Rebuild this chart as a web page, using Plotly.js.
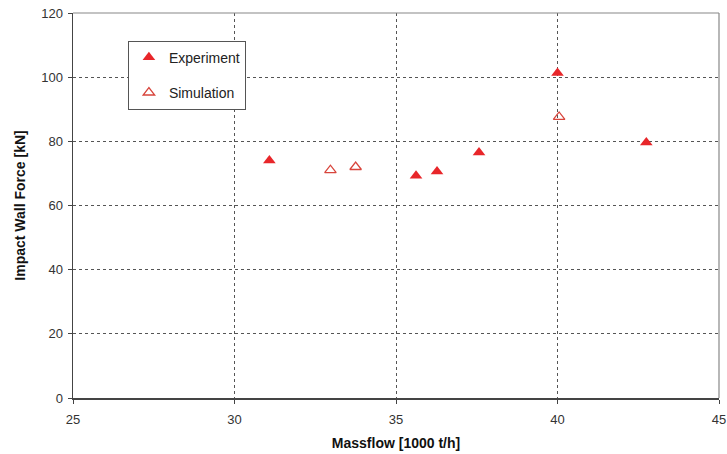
<!DOCTYPE html>
<html><head><meta charset="utf-8">
<script src="https://cdn.plot.ly/plotly-3.0.1.min.js"></script>
<style>body{margin:0;background:#fff}#c{width:727px;height:454px}</style>
</head><body><div id="c"></div>
<script>
const expX = [31.08, 35.62, 36.27, 37.57, 40.0, 42.75];
const expY = [74.0, 69.3, 70.6, 76.5, 101.3, 79.6];
const simX = [32.97, 33.75, 40.05];
const simY = [71.0, 72.0, 87.6];
const xTicks = [25, 30, 35, 40, 45];
const yTicks = [0, 20, 40, 60, 80, 100, 120];

const font = 'Liberation Sans, Arial, sans-serif';
const traces = [
  {x: expX, y: expY, type: 'scatter', mode: 'markers', name: 'Experiment', legendgroup: 'a',
   marker: {symbol: 'triangle-up', size: 11, color: '#e8262a', line: {width: 0}}},
  {x: simX, y: simY, type: 'scatter', mode: 'markers', name: 'Simulation', legendgroup: 'b',
   marker: {symbol: 'triangle-up-open', size: 10, color: '#d8453c', line: {width: 1.3, color: '#d8453c'}}}
];
const layout = {
  width: 727, height: 454,
  margin: {l: 72.5, r: 7.5, t: 12.7, b: 55.7},
  paper_bgcolor: '#fff', plot_bgcolor: '#fff',
  font: {family: font, color: '#333', size: 12},
  showlegend: true,
  legend: {x: 0.085, y: 0.928, xanchor: 'left', yanchor: 'top', bgcolor: '#fff',
    bordercolor: '#555', borderwidth: 1, font: {size: 14, color: '#222', family: font},
    traceorder: 'grouped', tracegroupgap: 14, itemwidth: 30, entrywidth: 120},
  xaxis: {range: [25, 45], tickvals: xTicks, ticktext: xTicks.map(String),
    showgrid: true, gridcolor: '#555', griddash: 'dot', gridwidth: 1,
    zeroline: false, showline: true, linecolor: '#444', linewidth: 1.5, mirror: false,
    ticks: 'outside', ticklen: 4, tickcolor: '#444', ticklabelstandoff: 5, tickfont: {size: 13, color: '#333'},
    title: {text: '<b>Massflow [1000 t/h]</b>', font: {size: 14, color: '#111'}, standoff: 12}},
  yaxis: {range: [0, 120], tickvals: yTicks, ticktext: yTicks.map(String),
    showgrid: true, gridcolor: '#555', griddash: 'dot', gridwidth: 1,
    zeroline: false, showline: true, linecolor: '#444', linewidth: 1.5,
    ticks: 'outside', ticklen: 4, tickcolor: '#444', ticklabelstandoff: 2, tickfont: {size: 13, color: '#333'},
    title: {text: '<b>Impact Wall Force [kN]</b>', font: {size: 14, color: '#111'}, standoff: 12}},
  shapes: [
    {type: 'line', xref: 'paper', yref: 'paper', x0: 0, x1: 1, y0: 1, y1: 1, line: {color: '#888', width: 1.2}},
    {type: 'line', xref: 'paper', yref: 'paper', x0: 1, x1: 1, y0: 0, y1: 1, line: {color: '#888', width: 1.2}}
  ]
};
Plotly.newPlot('c', traces, layout, {staticPlot: true});
</script></body></html>
